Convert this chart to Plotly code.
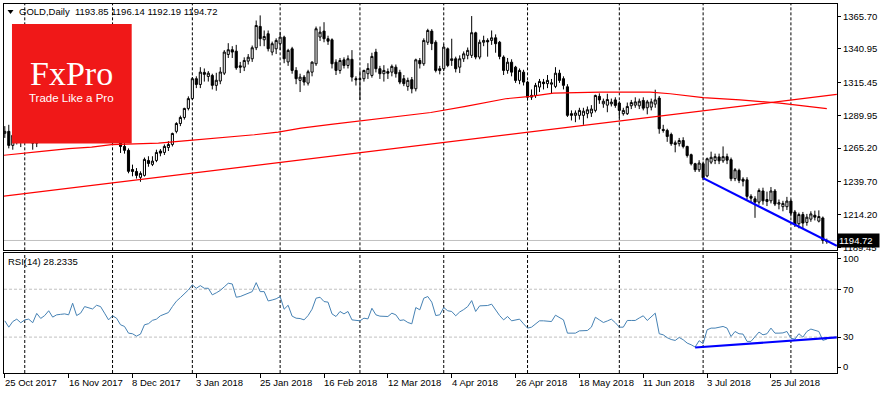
import pandas as pd
import plotly.graph_objects as go

# ---------------- data ----------------
FIRST_DAY, LAST_DAY = "2017-10-25", "2018-08-14"
HOLIDAYS = ["2017-12-25", "2018-01-01", "2018-03-30"]

OPEN = [1276.5, 1278.0, 1267.3, 1275.0, 1276.0, 1271.0, 1277.0, 1277.5, 1269.0, 1281.0,
        1275.0, 1282.5, 1285.0, 1274.0, 1278.5, 1281.5, 1278.5, 1277.5, 1294.5, 1275.5,
        1280.5, 1291.5, 1290.5, 1287.5, 1294.5, 1293.5, 1282.5, 1275.0, 1279.0, 1274.5,
        1266.5, 1263.5, 1248.9, 1247.4, 1242.9, 1244.4, 1255.8, 1252.8, 1255.8, 1263.0,
        1261.9, 1265.7, 1268.0, 1278.0, 1284.0, 1288.6, 1295.5, 1303.0, 1318.2, 1313.8,
        1323.0, 1319.9, 1320.7, 1313.1, 1316.4, 1322.4, 1336.7, 1340.3, 1339.2, 1328.0,
        1327.0, 1331.6, 1333.4, 1341.8, 1358.1, 1347.9, 1352.5, 1338.5, 1341.0, 1344.9,
        1349.9, 1331.0, 1341.0, 1324.5, 1316.9, 1319.4, 1314.8, 1323.2, 1329.6, 1350.0,
        1354.5, 1348.7, 1347.9, 1330.8, 1324.5, 1332.6, 1328.3, 1333.0, 1318.2, 1317.6,
        1318.2, 1322.0, 1320.7, 1338.5, 1325.8, 1322.0, 1323.6, 1323.2, 1327.0, 1323.0,
        1318.2, 1312.3, 1317.4, 1310.5, 1332.1, 1329.6, 1346.0, 1354.5, 1346.0, 1325.8,
        1325.8, 1341.0, 1332.1, 1333.4, 1327.0, 1333.4, 1336.0, 1336.0, 1353.2, 1334.7,
        1346.0, 1347.4, 1347.4, 1349.4, 1346.0, 1334.7, 1324.5, 1330.8, 1327.0, 1316.9,
        1323.2, 1315.6, 1304.1, 1305.4, 1311.8, 1315.6, 1314.4, 1314.0, 1312.3, 1322.4,
        1318.2, 1312.0, 1291.5, 1290.2, 1290.2, 1290.2, 1291.5, 1292.0, 1294.0, 1304.7,
        1299.0, 1298.0, 1299.0, 1302.0, 1299.6, 1291.5, 1291.5, 1297.5, 1298.0, 1297.5,
        1301.6, 1296.0, 1296.5, 1298.8, 1303.4, 1279.5, 1278.7, 1275.6, 1268.0, 1268.6,
        1271.0, 1266.5, 1260.2, 1253.3, 1248.7, 1253.3, 1244.0, 1254.5, 1255.8, 1258.5,
        1255.5, 1258.7, 1256.4, 1241.9, 1248.2, 1241.5, 1241.0, 1228.4, 1226.5, 1224.0,
        1232.5, 1224.5, 1225.0, 1232.5, 1222.5, 1220.5, 1220.5, 1224.8, 1216.5, 1207.5,
        1214.5, 1208.5, 1211.0, 1214.0, 1209.5, 1211.9, 1193.85]

HIGH = [1282.0, 1283.0, 1276.5, 1278.0, 1281.0, 1283.0, 1284.0, 1279.0, 1283.0, 1282.5,
        1286.0, 1289.0, 1288.0, 1281.0, 1285.0, 1287.5, 1282.0, 1296.5, 1295.5, 1283.5,
        1292.5, 1293.5, 1294.0, 1298.0, 1299.0, 1296.5, 1285.0, 1289.0, 1281.5, 1276.0,
        1269.0, 1265.0, 1252.6, 1250.0, 1247.5, 1258.0, 1259.0, 1259.0, 1264.0, 1264.5,
        1268.0, 1270.5, 1277.0, 1285.0, 1290.0, 1296.0, 1304.7, 1319.5, 1320.0, 1327.0,
        1326.0, 1324.0, 1322.0, 1322.7, 1327.0, 1340.0, 1345.3, 1343.0, 1344.0, 1331.0,
        1334.5, 1337.0, 1343.5, 1362.6, 1366.5, 1355.0, 1355.0, 1346.5, 1349.0, 1354.0,
        1351.0, 1341.0, 1342.5, 1327.0, 1322.0, 1321.0, 1325.0, 1331.5, 1358.0, 1358.0,
        1361.3, 1351.0, 1349.0, 1333.0, 1334.0, 1334.5, 1336.0, 1340.0, 1320.0, 1324.5,
        1325.0, 1330.0, 1338.0, 1341.0, 1328.0, 1328.5, 1326.0, 1329.0, 1329.0, 1325.0,
        1321.0, 1319.0, 1319.5, 1333.5, 1334.0, 1349.0, 1356.3, 1356.0, 1347.5, 1328.0,
        1344.5, 1342.0, 1348.7, 1335.0, 1336.0, 1339.0, 1342.0, 1366.0, 1354.0, 1348.0,
        1351.0, 1349.0, 1355.0, 1352.0, 1347.0, 1336.0, 1334.0, 1333.0, 1328.0, 1326.0,
        1325.0, 1316.5, 1310.0, 1315.0, 1318.0, 1318.0, 1321.0, 1318.0, 1327.0, 1325.0,
        1320.0, 1314.0, 1294.0, 1294.0, 1296.0, 1296.0, 1297.0, 1298.0, 1306.0, 1307.0,
        1303.0, 1306.7, 1303.0, 1304.0, 1301.0, 1296.0, 1300.0, 1302.0, 1304.0, 1303.0,
        1304.0, 1302.0, 1303.0, 1309.8, 1305.0, 1283.0, 1280.0, 1277.0, 1271.0, 1273.0,
        1273.5, 1267.0, 1261.0, 1254.0, 1256.0, 1255.0, 1258.0, 1262.5, 1261.0, 1261.0,
        1266.5, 1261.0, 1258.0, 1250.0, 1249.5, 1243.0, 1243.0, 1230.0, 1228.5, 1234.5,
        1235.0, 1232.0, 1235.5, 1234.0, 1226.0, 1225.0, 1228.0, 1226.0, 1218.0, 1216.0,
        1216.5, 1215.0, 1217.0, 1217.5, 1217.7, 1213.0, 1196.14]

LOW = [1273.0, 1265.0, 1264.0, 1268.0, 1266.0, 1269.0, 1272.0, 1264.0, 1266.0, 1272.0,
       1273.0, 1279.0, 1271.0, 1272.0, 1275.0, 1276.0, 1275.0, 1276.5, 1273.0, 1274.0,
       1279.5, 1288.5, 1285.0, 1286.0, 1290.0, 1279.0, 1272.0, 1271.0, 1271.5, 1261.5,
       1261.0, 1246.0, 1243.7, 1242.0, 1239.5, 1243.5, 1251.0, 1251.5, 1254.5, 1259.0,
       1260.0, 1263.0, 1266.5, 1276.5, 1282.0, 1287.0, 1294.0, 1302.0, 1311.0, 1311.0,
       1316.0, 1316.0, 1310.0, 1309.0, 1314.0, 1321.0, 1334.0, 1334.0, 1325.0, 1322.5,
       1324.0, 1329.0, 1331.0, 1340.0, 1343.0, 1343.0, 1339.0, 1336.0, 1337.0, 1340.0,
       1330.0, 1328.0, 1322.0, 1314.0, 1308.0, 1313.0, 1313.0, 1320.0, 1328.0, 1347.0,
       1346.0, 1344.0, 1326.0, 1321.0, 1322.0, 1326.0, 1326.0, 1316.0, 1313.0, 1302.0,
       1316.0, 1318.0, 1319.0, 1323.0, 1318.0, 1316.0, 1318.0, 1320.0, 1319.0, 1314.0,
       1312.5, 1309.0, 1307.0, 1308.5, 1326.0, 1328.0, 1344.0, 1340.0, 1323.0, 1321.5,
       1324.0, 1327.0, 1328.0, 1323.0, 1322.5, 1331.0, 1333.0, 1334.0, 1333.0, 1333.0,
       1343.0, 1335.0, 1344.0, 1338.0, 1333.0, 1321.0, 1322.0, 1320.0, 1315.0, 1314.0,
       1313.0, 1301.6, 1302.0, 1303.5, 1308.0, 1310.0, 1311.0, 1307.0, 1311.0, 1315.0,
       1310.0, 1289.0, 1286.3, 1285.0, 1287.0, 1283.0, 1288.0, 1289.0, 1292.5, 1299.0,
       1296.0, 1292.6, 1297.0, 1296.0, 1288.0, 1290.0, 1290.5, 1295.0, 1296.0, 1295.0,
       1294.0, 1291.0, 1294.0, 1296.0, 1276.2, 1277.0, 1270.0, 1267.0, 1262.0, 1266.5,
       1265.0, 1258.0, 1252.0, 1247.0, 1247.0, 1241.0, 1243.0, 1253.0, 1253.0, 1253.0,
       1254.0, 1253.0, 1240.0, 1240.0, 1238.5, 1236.0, 1226.0, 1224.0, 1212.0, 1222.0,
       1222.0, 1221.0, 1223.0, 1221.0, 1218.5, 1217.0, 1218.0, 1213.0, 1205.0, 1204.0,
       1204.0, 1206.0, 1209.0, 1210.0, 1208.5, 1192.2, 1192.19]

CLOSE = [1278.0, 1267.3, 1275.0, 1276.0, 1271.0, 1277.0, 1277.5, 1269.0, 1281.0, 1275.0,
         1282.5, 1285.0, 1274.0, 1278.5, 1281.5, 1278.5, 1277.5, 1294.5, 1275.5, 1280.5,
         1291.5, 1290.5, 1287.5, 1294.5, 1293.5, 1282.5, 1275.0, 1279.0, 1274.5, 1266.5,
         1263.5, 1247.5, 1247.4, 1244.4, 1245.9, 1256.6, 1253.5, 1255.3, 1261.9, 1261.4,
         1266.5, 1268.0, 1276.4, 1284.0, 1288.6, 1295.5, 1303.0, 1318.2, 1313.8, 1323.2,
         1321.5, 1322.4, 1313.1, 1317.0, 1323.3, 1338.5, 1340.3, 1338.5, 1326.5, 1327.0,
         1332.1, 1334.6, 1341.8, 1358.8, 1348.7, 1350.4, 1341.1, 1344.9, 1347.4, 1349.9,
         1333.4, 1339.8, 1324.5, 1318.2, 1319.4, 1315.6, 1323.5, 1330.8, 1356.3, 1353.7,
         1348.7, 1346.8, 1329.6, 1324.5, 1332.1, 1328.3, 1333.4, 1319.4, 1317.4, 1318.2,
         1324.5, 1326.0, 1335.2, 1325.8, 1322.0, 1324.5, 1322.4, 1327.6, 1322.0, 1315.6,
         1314.4, 1316.9, 1310.5, 1332.6, 1329.6, 1347.4, 1355.0, 1345.0, 1324.5, 1324.5,
         1342.3, 1328.3, 1333.4, 1325.8, 1333.4, 1337.2, 1339.8, 1353.3, 1334.7, 1346.0,
         1347.4, 1346.3, 1349.4, 1344.9, 1335.2, 1324.5, 1330.8, 1323.2, 1316.9, 1324.5,
         1315.6, 1304.1, 1305.5, 1313.1, 1316.1, 1314.4, 1316.9, 1315.0, 1322.4, 1316.9,
         1313.1, 1290.2, 1290.2, 1292.0, 1294.0, 1293.4, 1294.5, 1295.0, 1305.4, 1302.0,
         1301.0, 1302.3, 1300.3, 1297.8, 1294.0, 1294.0, 1297.0, 1300.0, 1300.5, 1301.0,
         1295.7, 1300.5, 1300.5, 1302.0, 1280.0, 1278.7, 1274.1, 1268.6, 1269.3, 1271.0,
         1266.5, 1259.6, 1253.3, 1248.7, 1253.8, 1242.6, 1257.1, 1258.2, 1258.7, 1255.5,
         1258.7, 1256.0, 1241.9, 1248.7, 1240.6, 1240.0, 1228.4, 1227.0, 1224.0, 1232.9,
         1225.0, 1226.0, 1232.5, 1222.5, 1223.5, 1223.0, 1224.8, 1215.6, 1207.0, 1214.5,
         1208.0, 1212.5, 1215.0, 1212.5, 1213.0, 1194.8, 1194.72]

RSI14 = [43.6, 38.3, 43.0, 45.0, 42.0, 44.4, 45.0, 42.0, 49.8, 45.6,
         48.0, 52.0, 46.7, 48.6, 49.0, 49.4, 48.6, 58.3, 48.0, 50.0,
         55.5, 54.7, 53.5, 56.6, 55.5, 50.0, 44.4, 47.8, 45.8, 40.3,
         38.9, 33.3, 32.8, 30.8, 32.5, 40.3, 41.2, 44.0, 45.0, 47.8,
         49.0, 50.5, 55.5, 60.0, 63.0, 66.0, 69.4, 73.6, 70.8, 73.0,
         70.8, 70.8, 65.3, 67.0, 69.0, 72.0, 75.0, 74.4, 63.3, 63.9,
         65.5, 67.0, 68.0, 75.5, 68.0, 68.0, 60.2, 61.0, 62.0, 63.9,
         53.3, 56.6, 47.5, 45.8, 45.5, 44.4, 48.0, 53.3, 62.5, 63.3,
         59.7, 59.2, 49.4, 47.2, 51.4, 49.4, 51.4, 44.4, 43.8, 43.6,
         45.8, 45.2, 54.1, 48.6, 47.5, 47.2, 47.2, 50.0, 48.6, 43.9,
         44.4, 42.2, 41.1, 54.7, 52.8, 62.5, 63.9, 59.2, 48.0, 48.6,
         54.7, 52.0, 51.4, 47.8, 51.0, 53.0, 55.5, 60.5, 51.4, 56.1,
         56.1, 56.4, 57.5, 52.8, 48.0, 44.4, 47.2, 43.6, 44.5, 45.0,
         41.1, 37.5, 38.3, 41.0, 43.6, 43.6, 43.3, 43.0, 48.3, 46.7,
         44.4, 33.3, 33.3, 33.3, 35.2, 35.5, 35.5, 38.3, 46.6, 44.4,
         42.2, 43.5, 45.0, 42.0, 38.3, 38.3, 43.9, 43.9, 43.9, 46.0,
         47.8, 43.9, 47.0, 50.0, 32.8, 31.9, 29.5, 28.0, 27.2, 29.7,
         27.8, 25.0, 23.6, 21.7, 27.0, 24.5, 36.1, 37.5, 37.5, 38.0,
         38.9, 37.5, 30.5, 34.7, 32.8, 32.5, 26.4, 26.4, 30.0, 34.2,
         31.9, 32.8, 37.5, 33.3, 33.3, 33.5, 34.7, 29.0, 28.3, 32.8,
         30.0, 34.7, 36.7, 35.8, 34.7, 27.3, 28.23]

# 200-period moving average, read at points along the red curve (bar index, price)
MA_BAR = [-0.75, 4.25, 9.25, 16, 21.75, 26.75, 32.5, 38.5, 44.25, 49.25, 56.75, 62.5, 68.5,
          74.25, 81.75, 94.25, 106.75, 115.5, 125.5, 131.75, 137.5, 149.25, 161.75, 166.75,
          175, 184.25, 194.25, 206]
MA_VAL = [1259.6, 1261.4, 1262.7, 1264.8, 1266.0, 1267.8, 1268.6, 1269.0, 1270.6, 1271.9,
          1273.6, 1275.4, 1277.4, 1280.5, 1283.3, 1287.6, 1292.4, 1297.0, 1302.9, 1304.7,
          1307.2, 1308.0, 1308.0, 1306.7, 1303.7, 1302.1, 1299.5, 1295.3]

# drawn trend lines (bar index, value)
RED_TREND_BAR, RED_TREND_VAL = [-0.75, 208.5], [1228.4, 1306.2]
BLUE_TREND_BAR, BLUE_TREND_VAL = [175, 208.5], [1242.3, 1190.6]
RSI_TREND_BAR, RSI_TREND_VAL = [173, 208.5], [21.3, 29.7]

PRICE_TICKS = [1365.70, 1340.95, 1315.45, 1289.95, 1265.20, 1239.70, 1214.20, 1189.45]
RSI_TICK_TEXT = ["100", "70", "30", "0"]
RSI_TICK_POS = [95.8, 70, 30, 5]
RSI_LEVELS = [70, 30]
DATE_LABELS = ["25 Oct 2017", "16 Nov 2017", "8 Dec 2017", "3 Jan 2018", "25 Jan 2018",
               "16 Feb 2018", "12 Mar 2018", "4 Apr 2018", "26 Apr 2018", "18 May 2018",
               "11 Jun 2018", "3 Jul 2018", "25 Jul 2018"]
LAST_OHLC = "1193.85 1196.14 1192.19 1194.72"
LAST_PRICE = 1194.72
RSI_LAST = "28.2335"

# ---------------- derived ----------------
dates = [d for d in pd.bdate_range(FIRST_DAY, LAST_DAY) if d.strftime("%Y-%m-%d") not in HOLIDAYS]
n = min(len(dates), len(OPEN))
bars = list(range(n))
pos_of = {d.strftime("%Y-%m-%d"): i for i, d in enumerate(dates[:n])}
label_bars = [pos_of.get(pd.to_datetime(s).strftime("%Y-%m-%d")) for s in DATE_LABELS]
month_starts = [i for i in range(1, n) if dates[i].month != dates[i - 1].month]

W, H = 880, 395
ML, MR, MT, MB = 3, 42, 3, 22
PW, PH = W - ML - MR, H - MT - MB


def px_x(px):
    return (px - ML) / PW


def px_y(py):
    return (H - MB - py) / PH


FONT = "Tahoma, Liberation Sans, Arial, sans-serif"
FS = 9.5

fig = go.Figure()

fig.add_trace(go.Scatter(x=RED_TREND_BAR, y=RED_TREND_VAL, mode="lines",
                         line=dict(color="#FF0000", width=1.2), xaxis="x", yaxis="y",
                         hoverinfo="skip", showlegend=False))
fig.add_trace(go.Scatter(x=MA_BAR, y=MA_VAL, mode="lines",
                         line=dict(color="#FF0000", width=1.2), xaxis="x", yaxis="y",
                         hoverinfo="skip", showlegend=False))
fig.add_trace(go.Candlestick(
    x=bars, open=OPEN[:n], high=HIGH[:n], low=LOW[:n], close=CLOSE[:n],
    increasing=dict(line=dict(color="black", width=1), fillcolor="white"),
    decreasing=dict(line=dict(color="black", width=1), fillcolor="black"),
    whiskerwidth=0, xaxis="x", yaxis="y", showlegend=False, hoverinfo="skip"))
fig.add_trace(go.Scatter(x=BLUE_TREND_BAR, y=BLUE_TREND_VAL, mode="lines",
                         line=dict(color="#0000FF", width=2.2), xaxis="x", yaxis="y",
                         hoverinfo="skip", showlegend=False))
fig.add_trace(go.Scatter(x=bars, y=RSI14[:n], mode="lines",
                         line=dict(color="#4682B4", width=1), xaxis="x2", yaxis="y2",
                         hoverinfo="skip", showlegend=False))
fig.add_trace(go.Scatter(x=RSI_TREND_BAR, y=RSI_TREND_VAL, mode="lines",
                         line=dict(color="#0000FF", width=2.2), xaxis="x2", yaxis="y2",
                         hoverinfo="skip", showlegend=False))

shapes = []
for m in month_starts:
    for xr, yr in (("x", "y domain"), ("x2", "y2 domain")):
        shapes.append(dict(type="line", xref=xr, yref=yr, x0=m, x1=m, y0=0, y1=1,
                           line=dict(color="black", width=1, dash="3px,2px"), layer="below"))
for lv in RSI_LEVELS:
    shapes.append(dict(type="line", xref="x2 domain", yref="y2", x0=0, x1=1, y0=lv, y1=lv,
                       line=dict(color="#C0C0C0", width=1, dash="3px,2px"), layer="below"))
shapes.append(dict(type="line", xref="x domain", yref="y", x0=0, x1=1, y0=LAST_PRICE, y1=LAST_PRICE,
                   line=dict(color="#C0C0C0", width=1), layer="below"))
# FxPro logo block
shapes.append(dict(type="rect", xref="paper", yref="paper", x0=px_x(11), x1=px_x(131),
                   y0=px_y(143), y1=px_y(23), fillcolor="#F01818", line=dict(width=0), layer="above"))
# small triangle of the chart title
shapes.append(dict(type="path", xref="paper", yref="paper",
                   path="M {} {} L {} {} L {} {} Z".format(px_x(6.5), px_y(9), px_x(12.5), px_y(9),
                                                          px_x(9.5), px_y(13)),
                   fillcolor="black", line=dict(width=0), layer="above"))

annotations = [
    dict(xref="paper", yref="paper", x=px_x(16), y=px_y(11), xanchor="left", yanchor="middle",
         text="GOLD,Daily  " + LAST_OHLC, showarrow=False, font=dict(family=FONT, size=FS, color="black")),
    dict(xref="paper", yref="paper", x=px_x(5), y=px_y(261), xanchor="left", yanchor="middle",
         text="RSI(14) " + RSI_LAST, showarrow=False, font=dict(family=FONT, size=FS, color="black")),
    dict(xref="paper", yref="paper", x=px_x(71), y=px_y(73), xanchor="center", yanchor="middle",
         text="FxPro", showarrow=False,
         font=dict(family="Liberation Serif, Times New Roman, serif", size=34, color="white")),
    dict(xref="paper", yref="paper", x=px_x(71), y=px_y(97.5), xanchor="center", yanchor="middle",
         text="Trade Like a Pro", showarrow=False,
         font=dict(family="Liberation Sans, Arial, sans-serif", size=11.5, color="white")),
    dict(xref="paper", yref="y", x=px_x(838), y=LAST_PRICE, xanchor="left", yanchor="middle",
         text="1194.72  ", showarrow=False, bgcolor="black", borderpad=1,
         font=dict(family=FONT, size=FS, color="white")),
]
for lab, b in zip(DATE_LABELS, label_bars):
    if b is None:
        continue
    annotations.append(dict(xref="x2", yref="paper", x=b, y=px_y(383), xanchor="left", yanchor="middle",
                            xshift=-2, text=lab, showarrow=False,
                            font=dict(family=FONT, size=FS, color="black")))

axis_common = dict(showgrid=False, zeroline=False, showline=True, mirror=True,
                   linecolor="black", linewidth=1)

fig.update_layout(
    width=W, height=H, margin=dict(l=ML, r=MR, t=MT, b=MB),
    paper_bgcolor="white", plot_bgcolor="white", showlegend=False,
    font=dict(family=FONT, size=FS, color="black"),
    boxgap=0.25,
    xaxis=dict(domain=[0, 1], range=[-0.2, 208.55], anchor="y", showticklabels=False, ticks="",
               rangeslider=dict(visible=False), **axis_common),
    yaxis=dict(domain=[px_y(250), 1], range=[1187.2, 1375.2], side="right", anchor="x",
               tickvals=PRICE_TICKS, ticktext=["%.2f" % v for v in PRICE_TICKS],
               ticks="outside", ticklen=3, tickcolor="black",
               tickfont=dict(family=FONT, size=FS, color="black"), **axis_common),
    xaxis2=dict(domain=[0, 1], range=[-0.2, 208.55], anchor="y2", matches="x", showticklabels=False,
                tickvals=[b for b in label_bars if b is not None], ticks="outside", ticklen=4,
                tickcolor="black", **axis_common),
    yaxis2=dict(domain=[0, px_y(253)], range=[0, 100], side="right", anchor="x2",
                tickvals=RSI_TICK_POS, ticktext=RSI_TICK_TEXT, ticks="outside", ticklen=3,
                tickcolor="black", tickfont=dict(family=FONT, size=FS, color="black"), **axis_common),
    shapes=shapes, annotations=annotations,
)

fig.write_html("out.html", config={"displayModeBar": False},
               post_script="document.body.style.margin='0px';document.body.style.overflow='hidden';")
